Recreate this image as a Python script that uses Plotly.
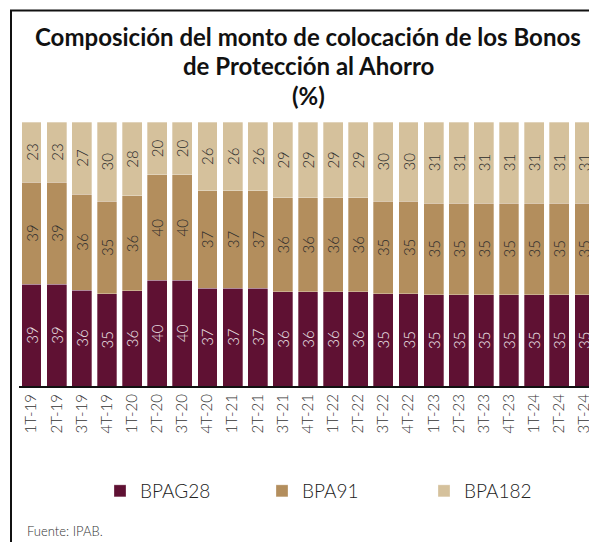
import plotly.graph_objects as go

categories = ["1T-19", "2T-19", "3T-19", "4T-19", "1T-20", "2T-20", "3T-20", "4T-20",
              "1T-21", "2T-21", "3T-21", "4T-21", "1T-22", "2T-22", "3T-22", "4T-22",
              "1T-23", "2T-23", "3T-23", "4T-23", "1T-24", "2T-24", "3T-24"]
bpag28 = [39, 39, 36, 35, 36, 40, 40, 37, 37, 37, 36, 36, 36, 36, 35, 35, 35, 35, 35, 35, 35, 35, 35]
bpa91 = [39, 39, 36, 35, 36, 40, 40, 37, 37, 37, 36, 36, 36, 36, 35, 35, 35, 35, 35, 35, 35, 35, 35]
bpa182 = [23, 23, 27, 30, 28, 20, 20, 26, 26, 26, 29, 29, 29, 29, 30, 30, 31, 31, 31, 31, 31, 31, 31]

series = [
    ("BPAG28", bpag28, "#5F1133", "#F0E8EC"),
    ("BPA91", bpa91, "#B38E5D", "#2B2B2B"),
    ("BPA182", bpa182, "#D5C19C", "#2B2B2B"),
]

FONT = "Lato"
OFF = 8  # page body margin
WIN_W, WIN_H = 597, 542
W, H = WIN_W - OFF, WIN_H - OFF
PLOT_L, PLOT_R, PLOT_T, PLOT_B = 19, 597, 122, 386  # window pixels
L, R, T, B = PLOT_L - OFF, WIN_W - PLOT_R, PLOT_T - OFF, WIN_H - PLOT_B
pw, ph = PLOT_R - PLOT_L, PLOT_B - PLOT_T

def px_x(x):
    return (x - PLOT_L) / pw

def px_y(y):
    return (PLOT_B - y) / ph

fig = go.Figure()
for name, vals, color, tcolor in series:
    fig.add_trace(go.Bar(
        name=name, x=categories, y=vals, text=vals, texttemplate="%{text}",
        textposition="inside", insidetextanchor="middle", textangle=-90,
        constraintext="none",
        textfont=dict(family=FONT, size=15, color=tcolor, weight=300),
        marker=dict(color=color, line=dict(width=0.6, color="rgba(255,255,255,0.5)")),
        hoverinfo="skip",
    ))

title_lines = ["Composición del monto de colocación de los Bonos",
               "de Protección al Ahorro", "(%)"]
title_y = [36, 66, 95]
annotations = []
for txt, yy in zip(title_lines, title_y):
    annotations.append(dict(text="<b>" + txt + "</b>", x=px_x(308), y=px_y(yy),
                            xref="paper", yref="paper", xanchor="center", yanchor="middle",
                            showarrow=False, font=dict(family=FONT, size=24, color="#111111")))
annotations.append(dict(text="Fuente: IPAB.", x=px_x(25), y=px_y(531), xref="paper", yref="paper",
                        xanchor="left", yanchor="middle", showarrow=False,
                        font=dict(family=FONT, size=13, color="#333333", weight=300)))

shapes = [
    dict(type="line", xref="paper", yref="paper", x0=px_x(11), x1=px_x(11), y0=px_y(10.5), y1=px_y(545),
         line=dict(color="#111111", width=2)),
    dict(type="line", xref="paper", yref="paper", x0=px_x(10), x1=px_x(600), y0=px_y(10.5), y1=px_y(10.5),
         line=dict(color="#111111", width=2)),
]

fig.update_layout(
    width=W, height=H, margin=dict(l=L, r=R, t=T, b=B),
    barmode="stack", barnorm="percent", bargap=0.21,
    plot_bgcolor="white", paper_bgcolor="white",
    showlegend=True,
    legend=dict(orientation="h", x=px_x(100), y=px_y(491), xanchor="left", yanchor="middle",
                font=dict(family=FONT, size=19, color="#222222", weight=300), entrywidth=117,
                traceorder="normal", itemclick=False, itemdoubleclick=False),
    annotations=annotations, shapes=shapes,
    xaxis=dict(range=[-0.5, 22.5], tickangle=-90, showline=True, linecolor="#111111", linewidth=2,
               ticks="", showgrid=False,
               tickfont=dict(family=FONT, size=15, color="#333333", weight=300),
               fixedrange=True),
    yaxis=dict(range=[0, 100], visible=False, showgrid=False, fixedrange=True),
)

fig.write_html("out.html")
